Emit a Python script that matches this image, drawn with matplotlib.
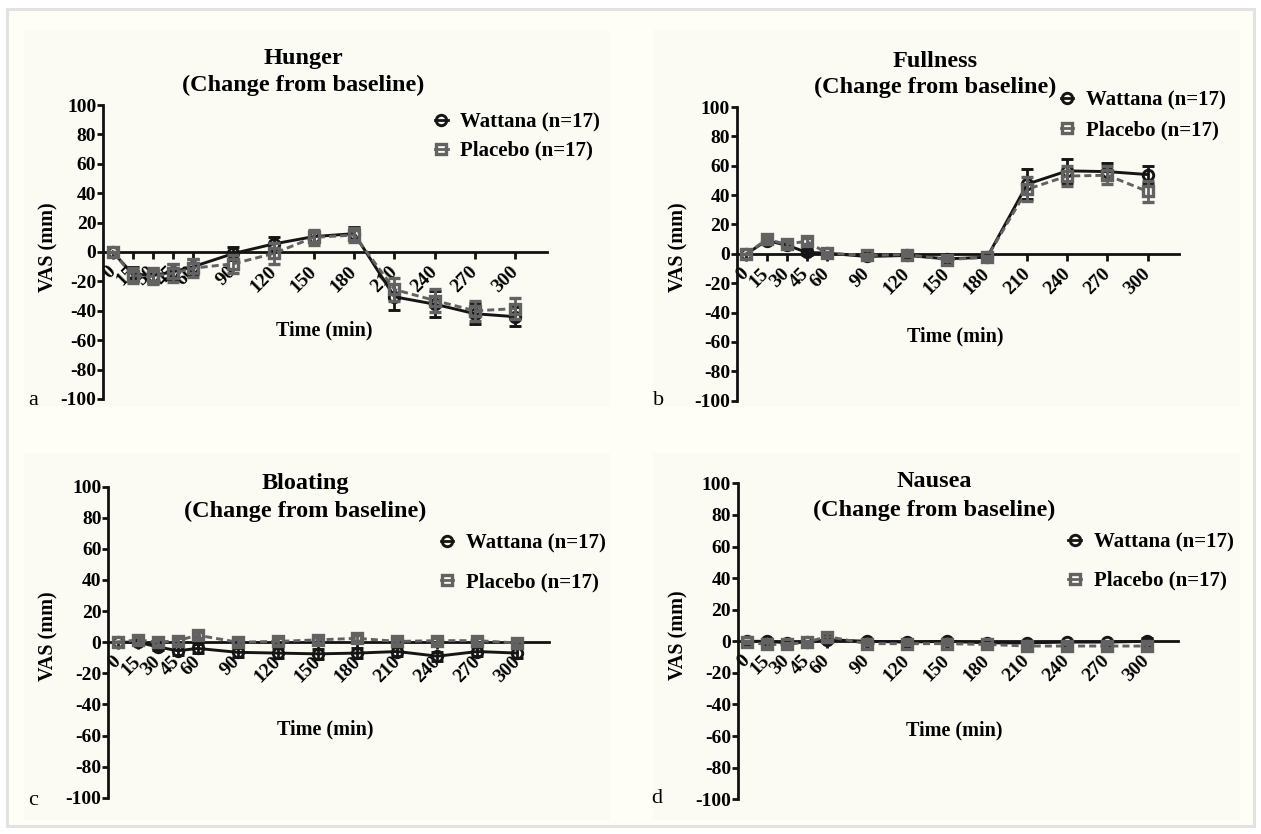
import matplotlib
matplotlib.use('Agg')
import matplotlib.pyplot as plt
from matplotlib.patches import Rectangle
from matplotlib.lines import Line2D

plt.rcParams['font.family'] = ['Liberation Serif', 'DejaVu Serif']
plt.rcParams['font.weight'] = 'bold'
plt.rcParams['axes.unicode_minus'] = False

W, H = 1261, 834

times = [0, 15, 30, 45, 60, 90, 120, 150, 180, 210, 240, 270, 300]
yticks = list(range(-100, 101, 20))

titles = ['Hunger', 'Fullness', 'Bloating', 'Nausea']
letters = ['a', 'b', 'c', 'd']
series_names = ['Wattana (n=17)', 'Placebo (n=17)']

# hunger
hunger_w = [0, -15, -16, -13.5, -10, -1, 5.5, 10.5, 12.5, -30.5, -35.5, -42, -44]
hunger_w_sem = [0, 5, 5, 5, 5, 4.5, 4.5, 4, 4.5, 9, 9, 7, 6.5]
hunger_p = [0, -16, -16.5, -14.5, -11, -8, -1, 10, 11.5, -25.5, -33, -40, -38.5]
hunger_p_sem = [0, 5, 5.5, 6, 6, 6, 7, 5, 5, 8, 8, 7, 7]

# fullness
fullness_w = [0, 9, 6, 1, 0.5, -1.8, -1.1, -3.4, -2.3, 47.5, 56.5, 56, 54]
fullness_w_sem = [0, 2, 2, 2, 1, 1, 1, 1, 1, 10, 8, 6, 6]
fullness_p = [0, 9.8, 6.6, 8.6, 0.5, -1.1, -0.5, -3.9, -2.3, 44, 53, 53.5, 42.5]
fullness_p_sem = [0, 2, 2, 2, 1, 1, 1, 1, 1, 8, 7, 6, 7]

# bloating
bloating_w = [0, 0, -3, -5.5, -4, -6.5, -7, -7.5, -7, -6, -9, -6, -7]
bloating_w_sem = [0, 2, 2, 3, 3, 3, 3, 3, 3, 3, 3, 3, 3]
bloating_p = [0, 1.5, 0, 1, 4.5, 0, 0.5, 1.5, 2.5, 0.5, 1, 1, -0.5]
bloating_p_sem = [0, 2, 2, 2, 2, 2, 2, 2, 2, 1.5, 1.5, 1.5, 1.5]

# nausea
nausea_w = [0, 0, -1, -0.5, 1, 0, -0.5, 0, -1, -1, -0.5, -0.5, 0]
nausea_w_sem = [0, 1, 1, 1, 1.5, 1, 1, 1, 1, 1, 1, 1, 2]
nausea_p = [-0.5, -2, -2, -0.5, 3, -1.5, -1.5, -1.5, -2, -3, -3, -3, -3]
nausea_p_sem = [0.5, 1.5, 1, 1, 2, 1, 1, 1, 1, 1.5, 1.5, 1.5, 1.5]

wattana = [hunger_w, fullness_w, bloating_w, nausea_w]
wattana_sem = [hunger_w_sem, fullness_w_sem, bloating_w_sem, nausea_w_sem]
placebo = [hunger_p, fullness_p, bloating_p, nausea_p]
placebo_sem = [hunger_p_sem, fullness_p_sem, bloating_p_sem, nausea_p_sem]

# layout in pixels (left, right, top, bottom) of each axes
axes_px = [(103.3, 546.8, 105, 399), (737.1, 1179, 107, 400.7),
           (108.4, 548.6, 486.7, 797.7), (738, 1177.9, 483.3, 799.3)]
title_px = [(303.5, 64, 90.5), (935, 67, 93), (305.4, 489, 517), (934, 487, 516)]
xlabel_px = [(324.6, 330), (955, 336.7), (325.4, 729.3), (954, 730)]
ylabel_px = [(48.7, 247), (678, 247), (48.7, 636), (678, 635)]
letter_px = [(33.4, 405), (659, 405), (33.4, 805), (657, 803)]
legend_px = [(435, 136.5, 0.42), (1060.5, 115.5, 0.47), (440.5, 563, 0.9), (1068.4, 561.5, 0.9)]

BLACK = '#151515'
GREY = '#626262'


def fx(x):
    return x / W


def fy(y):
    return 1 - y / H


fig = plt.figure(figsize=(W / 100, H / 100), dpi=100)
fig.patch.set_facecolor('white')
fig.patches.append(Rectangle((fx(7), fy(826)), fx(1247), (826 - 9) / H, transform=fig.transFigure,
                             facecolor='#fefef6', edgecolor='#e2e2e2', lw=2.2, zorder=-2))
for (x0, y0, x1, y1) in [(24, 30, 610, 407), (653, 30, 1240, 407), (24, 453, 610, 820), (653, 453, 1240, 820)]:
    fig.patches.append(Rectangle((fx(x0), fy(y1)), fx(x1 - x0), (y1 - y0) / H, transform=fig.transFigure,
                                 facecolor='#fbfbf3', edgecolor='none', zorder=-1))

for i in range(4):
    l, r, t, b = axes_px[i]
    ax = fig.add_axes([fx(l), fy(b), fx(r - l), (b - t) / H])
    ax.set_facecolor('none')
    ax.set_zorder(2)

    ax.errorbar(times, wattana[i], yerr=wattana_sem[i], color=BLACK, lw=2.1, marker='o', ms=7.5,
                mfc='none', mew=2.1, capsize=4.5, capthick=2.0, elinewidth=2.0, zorder=3)
    ax.errorbar(times, placebo[i], yerr=placebo_sem[i], color=GREY, lw=2.1, ls=(0, (2.4, 1.4)),
                marker='s', ms=7.5, mfc='none', mew=2.4, capsize=4.5, capthick=2.0, elinewidth=2.0,
                zorder=4)

    ax.set_xlim(-7, 323.5)
    ax.set_ylim(-100, 100)
    ax.spines['top'].set_visible(False)
    ax.spines['right'].set_visible(False)
    ax.spines['bottom'].set_position(('data', 0))
    for s in ('left', 'bottom'):
        ax.spines[s].set_linewidth(2.0)
        ax.spines[s].set_color('#111111')

    ax.set_yticks(yticks, labels=[str(v) for v in yticks])
    ax.set_xticks(times, labels=[str(v) for v in times], rotation=45, ha='right', va='center',
                  rotation_mode='anchor')
    ax.tick_params(axis='y', length=4, width=2.0, pad=1, labelsize=14, color='#111111')
    ax.tick_params(axis='x', length=4.8, width=2.0, pad=7.5, labelsize=14, color='#111111')

    handles = [Line2D([], [], color=BLACK, lw=2.0, marker='o', ms=7.5, mfc='none', mew=2.1),
               Line2D([], [], color=GREY, lw=2.0, marker='s', ms=7.5, mfc='none', mew=2.4)]
    lx, ly, lsp = legend_px[i]
    ax.legend(handles, series_names, loc='center left', bbox_to_anchor=(fx(lx), fy(ly)),
              bbox_transform=fig.transFigure, frameon=False, borderpad=0, borderaxespad=0,
              handlelength=0.62, handletextpad=0.6, labelspacing=lsp, fontsize=15)

    cx, y1, y2 = title_px[i]
    fig.text(fx(cx), fy(y1), titles[i], ha='center', va='baseline', fontsize=17.5)
    fig.text(fx(cx), fy(y2), '(Change from baseline)', ha='center', va='baseline', fontsize=17.5)
    fig.text(fx(xlabel_px[i][0]), fy(xlabel_px[i][1]), 'Time (min)', ha='center', va='center', fontsize=14.5)
    fig.text(fx(ylabel_px[i][0]), fy(ylabel_px[i][1]), 'VAS (mm)', ha='center', va='center',
             rotation=90, fontsize=14.5)
    fig.text(fx(letter_px[i][0]), fy(letter_px[i][1]), letters[i], ha='center', va='baseline',
             fontsize=16, fontweight='normal')

fig.savefig('out.png', dpi=100)
